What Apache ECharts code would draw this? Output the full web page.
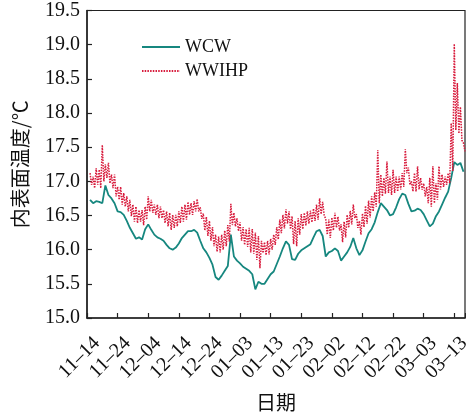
<!DOCTYPE html>
<html>
<head>
<meta charset="utf-8">
<script src="https://cdn.jsdelivr.net/npm/echarts@6/dist/echarts.min.js"></script>
<style>
  html, body { margin: 0; padding: 0; background: #fff; }
  #chart { width: 466px; height: 414px; }
</style>
</head>
<body>
<div id="chart"></div>
<script>
// Date labels, one every 10 days starting 11-14
const tickLabels = ['11–14', '11–24', '12–04', '12–14', '12–24', '01–03', '01–13',
                    '01–23', '02–02', '02–12', '02–22', '03–03', '03–13'];

// First day of the record (days counted from 11-14)
const startDay = 1;

// WCW: inner surface temperature, one value per day (°C)
const wcw = [
  16.73, 16.68, 16.71, 16.70, 16.68, 16.94, 16.80, 16.75, 16.68, 16.56,
  16.55, 16.51, 16.42, 16.32, 16.24, 16.16, 16.18, 16.15, 16.30, 16.37,
  16.29, 16.22, 16.18, 16.16, 16.13, 16.07, 16.02, 16.00, 16.03, 16.09,
  16.17, 16.22, 16.27, 16.27, 16.29, 16.25, 16.13, 16.02, 15.96, 15.88,
  15.78, 15.60, 15.56, 15.62, 15.69, 15.76, 16.22, 15.90, 15.84, 15.80,
  15.75, 15.72, 15.69, 15.64, 15.42, 15.53, 15.50, 15.50, 15.57, 15.64,
  15.68, 15.79, 15.90, 16.02, 16.12, 16.07, 15.86, 15.85, 15.94, 15.99,
  16.02, 16.05, 16.08, 16.18, 16.27, 16.29, 16.20, 15.90, 15.96, 15.98,
  16.02, 15.98, 15.84, 15.90, 15.96, 16.04, 16.17, 16.02, 15.92, 15.99,
  16.12, 16.24, 16.30, 16.40, 16.55, 16.68, 16.63, 16.58, 16.50, 16.52,
  16.62, 16.74, 16.82, 16.80, 16.67, 16.56, 16.57, 16.60, 16.58, 16.52,
  16.43, 16.34, 16.38, 16.49, 16.56, 16.66, 16.76, 16.85, 17.05, 17.28,
  17.24, 17.27, 17.14
];

// WWIHP: daily high (at the start of each day) and daily low (half a day later), °C
const wwihpHigh = [
  17.12, 17.07, 17.19, 17.17, 17.53, 17.25, 17.27, 17.10, 17.10, 16.92,
  16.92, 16.83, 16.78, 16.73, 16.66, 16.63, 16.58, 16.58, 16.63, 16.78,
  16.73, 16.66, 16.66, 16.63, 16.58, 16.56, 16.54, 16.51, 16.51, 16.56,
  16.63, 16.66, 16.70, 16.68, 16.71, 16.74, 16.62, 16.53, 16.48, 16.42,
  16.33, 16.22, 16.19, 16.22, 16.28, 16.36, 16.67, 16.54, 16.46, 16.40,
  16.33, 16.30, 16.32, 16.30, 16.25, 16.20, 16.13, 16.11, 16.13, 16.16,
  16.22, 16.33, 16.44, 16.51, 16.59, 16.56, 16.49, 16.42, 16.46, 16.52,
  16.54, 16.56, 16.57, 16.60, 16.66, 16.75, 16.70, 16.45, 16.44, 16.47,
  16.54, 16.48, 16.37, 16.41, 16.51, 16.57, 16.66, 16.52, 16.42, 16.53,
  16.64, 16.72, 16.78, 16.84, 17.46, 17.10, 17.05, 17.29, 17.07, 17.17,
  17.07, 17.07, 17.12, 17.47, 17.20, 17.00, 17.12, 17.22, 17.05, 16.97,
  16.92, 17.05, 17.22, 16.97, 17.22, 17.10, 17.07, 17.12, 17.85, 19.01,
  18.44, 18.09, 17.56
];
const wwihpLow = [
  16.95, 16.90, 16.95, 16.90, 17.00, 17.05, 16.97, 16.90, 16.78, 16.73,
  16.66, 16.63, 16.56, 16.49, 16.41, 16.39, 16.41, 16.36, 16.44, 16.56,
  16.54, 16.51, 16.46, 16.46, 16.39, 16.34, 16.29, 16.32, 16.34, 16.39,
  16.41, 16.44, 16.51, 16.51, 16.56, 16.56, 16.45, 16.28, 16.20, 16.13,
  16.05, 15.97, 15.96, 16.00, 16.05, 16.12, 16.36, 16.34, 16.27, 16.13,
  16.07, 16.04, 15.96, 15.94, 15.85, 15.73, 15.95, 15.92, 15.93, 16.00,
  16.07, 16.15, 16.24, 16.31, 16.38, 16.30, 16.08, 16.05, 16.22, 16.30,
  16.35, 16.38, 16.40, 16.42, 16.44, 16.52, 16.50, 16.22, 16.17, 16.28,
  16.32, 16.28, 16.11, 16.18, 16.32, 16.37, 16.46, 16.32, 16.22, 16.33,
  16.38, 16.47, 16.56, 16.63, 16.68, 16.78, 16.82, 16.83, 16.80, 16.83,
  16.85, 16.88, 16.92, 17.12, 16.95, 16.85, 16.85, 16.88, 16.88, 16.78,
  16.68, 16.63, 16.68, 16.73, 16.88, 16.92, 16.95, 16.97, 17.15, 17.75,
  17.70, 17.60, 17.44
];

// Build [day, value] pairs for the line series
const wcwData = wcw.map((v, i) => [startDay + i, v]);
const wwihpData = [];
wwihpHigh.forEach((hi, i) => {
  wwihpData.push([startDay + i, hi]);
  wwihpData.push([startDay + i + 0.5, wwihpLow[i]]);
});

const serif = 'serif';
const cjk = 'Noto Sans CJK SC';

const chart = echarts.init(document.getElementById('chart'), null, { renderer: 'canvas' });
chart.setOption({
  animation: false,
  backgroundColor: '#fff',
  grid: {
    left: 87, right: 1, top: 10.5, bottom: 96,
    containLabel: false, outerBoundsMode: 'none',
    show: true, borderColor: '#222', borderWidth: 1.2, backgroundColor: 'transparent'
  },
  legend: {
    left: 136, top: 33, orient: 'vertical', itemGap: 6,
    itemWidth: 38, itemHeight: 18,
    itemStyle: { opacity: 0 },
    textStyle: { fontFamily: serif, fontSize: 18, color: '#111' },
    data: ['WCW', 'WWIHP']
  },
  xAxis: {
    type: 'value', min: 0, max: 123.5, interval: 10,
    name: '日期', nameLocation: 'middle', nameGap: 74, nameMoveOverlap: false,
    nameTextStyle: { fontFamily: cjk, fontSize: 20, color: '#111' },
    axisLine: { lineStyle: { color: '#222', width: 1.5 } },
    axisTick: { inside: true, length: 5, lineStyle: { color: '#222', width: 1.2 } },
    splitLine: { show: false },
    axisLabel: {
      rotate: 45, margin: 32, fontFamily: serif, fontSize: 20, color: '#111',
      padding: [0, -14, 0, 0],
      formatter: v => (v % 10 === 0 && tickLabels[v / 10]) ? tickLabels[v / 10] : ''
    }
  },
  yAxis: {
    type: 'value', min: 15, max: 19.5, interval: 0.5,
    name: '内表面温度/℃', nameLocation: 'middle', nameGap: 57,
    nameTextStyle: { fontFamily: cjk, fontSize: 20, color: '#111' },
    axisLine: { show: true, lineStyle: { color: '#222', width: 1.5 } },
    axisTick: { inside: true, length: 5, lineStyle: { color: '#222', width: 1.2 } },
    splitLine: { show: false },
    axisLabel: {
      margin: 7, fontFamily: serif, fontSize: 20, color: '#111',
      formatter: v => v.toFixed(1)
    }
  },
  series: [
    {
      name: 'WCW', type: 'line', data: wcwData, showSymbol: false, symbol: 'none',
      lineStyle: { color: '#16877f', width: 1.8 }, itemStyle: { color: '#16877f' }
    },
    {
      name: 'WWIHP', type: 'line', data: wwihpData, showSymbol: false, symbol: 'none',
      lineStyle: { color: '#d81b3c', width: 1.5, type: [1.5, 1.2] }, itemStyle: { color: '#d81b3c' }
    }
  ]
});
</script>
</body>
</html>
